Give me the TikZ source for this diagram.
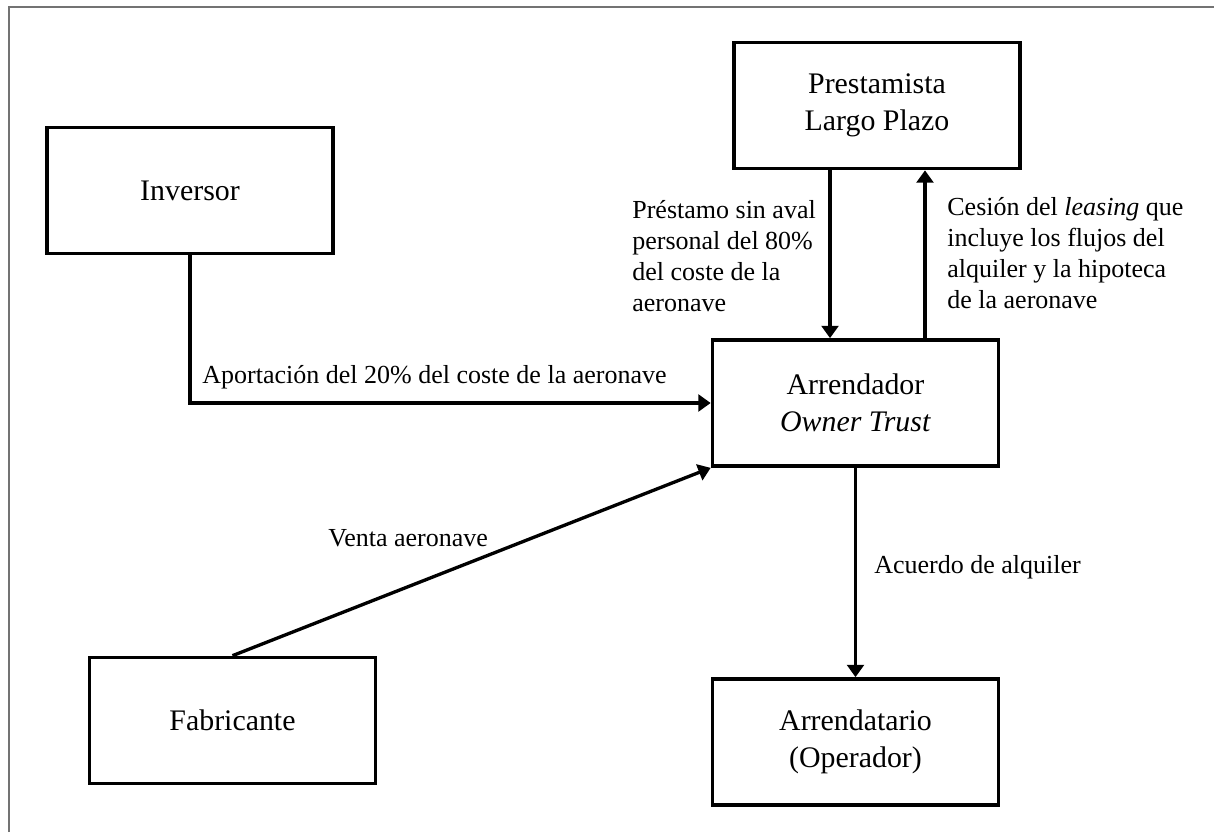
\documentclass[tikz,border=0pt]{standalone}
\usepackage{fontspec}
\setmainfont{Liberation Serif}
\usetikzlibrary{arrows.meta}

\begin{document}
\begin{tikzpicture}[x=0.02cm,y=-0.02cm,
  party/.style={draw=black, line width=2.1pt, line join=miter, rectangle,
    minimum width=5.72cm, minimum height=2.52cm, inner sep=0pt, align=center,
    font=\fontsize{17}{21}\selectfont},
  flow/.style={line width=1.9pt, -{Triangle[width=9.5pt,length=7pt]}},
  note/.style={inner sep=0pt, align=left, font=\fontsize{14.8}{17.6}\selectfont}]

  \useasboundingbox (0,0) rectangle (1214,832);
  \fill[white] (0,0) rectangle (1214,832);
  % outer frame
  \draw[color=black!55, line width=0.9pt] (9,832) -- (9,7) -- (1214,7);

  % parties
  \node[party] (pre) at (877,105.5) {Prestamista\\Largo Plazo};
  \node[party] (inv) at (190,190.5) {Inversor};
  \node[party] (arr) at (855.5,403) {Arrendador\\\textit{Owner Trust}};
  \node[party] (fab) at (232.5,720.5) {Fabricante};
  \node[party] (ten) at (855.5,742) {Arrendatario\\(Operador)};

  % loan down, assignment up
  \coordinate (dn) at ([xshift=-0.94cm]pre.south);
  \coordinate (up) at ([xshift=0.96cm]pre.south);
  \draw[flow] (dn) -- (dn |- arr.north);
  \draw[flow] (up |- arr.north) -- (up);

  % equity, sale, lease
  \draw[flow] (inv.south) |- (arr.west);
  \draw[flow] (fab.north) -- (arr.south west);
  \draw[flow] (arr.south) -- (ten.north);

  % labels
  \node[note, anchor=north west] (lp) at (632,200)
    {Préstamo sin aval\\personal del 80\%\\del coste de la\\aeronave};
  \node[note, anchor=north west] (lc) at (947,197)
    {Cesión del \textit{leasing} que\\incluye los flujos del\\alquiler y la hipoteca\\de la aeronave};
  \node[note, anchor=base west] (la) at (202,383)
    {Aportación del 20\% del coste de la aeronave};
  \node[note, anchor=base west] (lv) at (328,546) {Venta aeronave};
  \node[note, anchor=base west] (lq) at (874,573) {Acuerdo de alquiler};
\end{tikzpicture}
\end{document}
